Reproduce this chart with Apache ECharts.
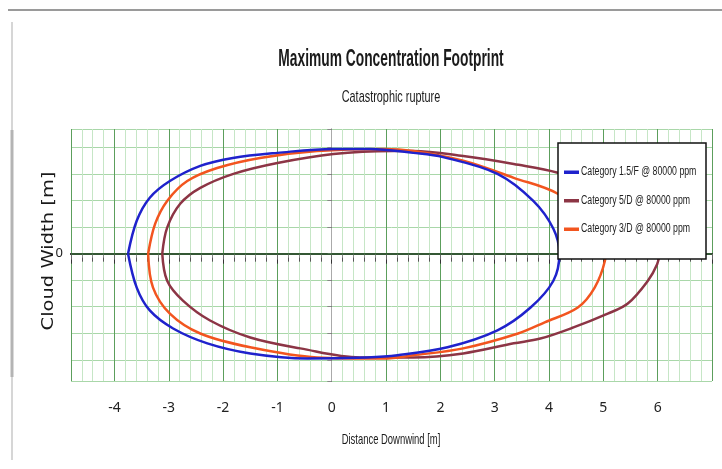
<!DOCTYPE html>
<html>
<head>
<meta charset="utf-8">
<script src="https://cdn.jsdelivr.net/npm/echarts@6/dist/echarts.min.js"></script>
<style>
  html, body { margin: 0; padding: 0; background: #fff; }
  #chart { width: 722px; height: 469px; }
</style>
</head>
<body>
<div id="chart"></div>
<script>
  // footprint outlines: [distance downwind, cloud width]
  var seriesNames = ['Category 1.5/F @ 80000 ppm', 'Category 5/D @ 80000 ppm', 'Category 3/D @ 80000 ppm'];
  var seriesColors = ['#1f22cc', '#8c3545', '#f2551f'];

  var footprint15F = [
    [-3.75, 0], [-3.59, 1.24], [-3.35, 2.11], [-2.98, 2.74], [-2.42, 3.31], [-1.82, 3.61],
    [-1.00, 3.80], [0.03, 3.95], [0.71, 3.95], [1.50, 3.80], [2.05, 3.64], [3.05, 3.01],
    [3.71, 1.99], [4.08, 0.94], [4.19, 0], [4.08, -1.02], [3.66, -2.03], [3.05, -2.89],
    [2.13, -3.53], [1.21, -3.83], [0.65, -3.91], [-0.45, -3.95], [-1.50, -3.76], [-2.29, -3.38],
    [-2.92, -2.82], [-3.35, -2.14], [-3.59, -1.28], [-3.75, 0]
  ];

  var footprint5D = [
    [-3.12, 0], [-3.03, 0.98], [-2.79, 1.88], [-2.42, 2.48], [-1.81, 3.01], [-1.00, 3.42],
    [0.03, 3.76], [1.13, 3.87], [1.50, 3.87], [2.42, 3.68], [3.35, 3.38], [4.16, 3.05],
    [4.95, 2.37], [5.59, 1.43], [5.91, 0.68], [6.03, 0], [5.99, -0.40], [5.82, -1.02],
    [5.45, -1.88], [5.08, -2.26], [4.45, -2.78], [3.84, -3.20], [3.35, -3.38], [2.42, -3.76],
    [1.50, -3.91], [0.52, -3.91], [-0.58, -3.57], [-1.50, -3.16], [-2.24, -2.52], [-2.74, -1.77],
    [-3.03, -1.02], [-3.12, 0]
  ];

  var footprint3D = [
    [-3.38, 0], [-3.25, 1.13], [-3.03, 1.99], [-2.66, 2.74], [-2.11, 3.23], [-1.32, 3.61],
    [-0.27, 3.87], [0.95, 3.95], [1.50, 3.87], [2.42, 3.50], [3.35, 2.86], [4.16, 2.26],
    [4.58, 1.43], [4.86, 0.68], [5.04, 0], [5.03, -0.26], [4.84, -1.28], [4.53, -2.03],
    [3.92, -2.59], [3.43, -3.01], [2.42, -3.57], [1.50, -3.83], [0.95, -3.95], [-0.27, -3.91],
    [-1.50, -3.53], [-2.42, -3.01], [-2.98, -2.26], [-3.29, -1.28], [-3.38, 0]
  ];

  var xRange = [-4.8, 7.0];
  var yRange = [-4.8, 4.7];

  var sans = "'Liberation Sans', Arial, sans-serif";

  var chart = echarts.init(document.getElementById('chart'));

  function lineSeries(i, data) {
    return {
      name: seriesNames[i],
      type: 'line',
      data: data,
      smooth: 0.35,
      showSymbol: false,
      symbol: 'none',
      z: 3,
      lineStyle: {color: seriesColors[i], width: 2.5},
      itemStyle: {color: seriesColors[i]}
    };
  }

  var s0 = lineSeries(0, footprint15F);
  s0.z = 4;
  s0.markLine = {
    silent: true,
    symbol: 'none',
    label: {show: false},
    animation: false,
    z: 2,
    lineStyle: {color: '#3d6b3d', type: 'solid', width: 1.5},
    data: [{yAxis: 0}]
  };

  // the original uses a narrow face; no condensed font here, so texts are squeezed with scaleX
  function squeezedText(txt, x, y, font, sx, extra) {
    var el = {
      type: 'text', x: x, y: y, scaleX: sx, z: 10,
      style: {text: txt, font: font, fill: '#1a1a1a', textAlign: 'center', textVerticalAlign: 'middle'}
    };
    for (var k in extra) el[k] = extra[k];
    return el;
  }

  // legend box drawn as a group, one row per series
  var legendRows = [];
  seriesNames.forEach(function (name, i) {
    var cy = 29 + i * 28.5;
    legendRows.push({type: 'rect', z: 21, shape: {x: 6, y: cy - 1.5, width: 15, height: 3.5}, style: {fill: seriesColors[i]}});
    legendRows.push({
      type: 'text', z: 21, x: 23, y: cy, scaleX: 0.7,
      style: {text: name, font: '12.5px ' + sans, fill: '#222', textAlign: 'left', textVerticalAlign: 'middle'}
    });
  });

  var option = {
    backgroundColor: '#fff',
    animation: false,
    legend: {show: false, data: seriesNames},
    grid: {left: 71, right: 10, top: 129, bottom: 88},
    graphic: [
      {type: 'line', shape: {x1: 8, y1: 10, x2: 722, y2: 10}, style: {stroke: '#9a9a9a', lineWidth: 2}},
      {type: 'line', shape: {x1: 12, y1: 22, x2: 12, y2: 460}, style: {stroke: '#d6d6d6', lineWidth: 2}},
      {type: 'line', shape: {x1: 12, y1: 130, x2: 12, y2: 377}, style: {stroke: '#b4b4b4', lineWidth: 3}},
      squeezedText('Maximum Concentration Footprint', 391, 60, 'bold 23px ' + sans, 0.6),
      squeezedText('Catastrophic rupture', 391, 97, '17px ' + sans, 0.64),
      squeezedText('Distance Downwind [m]', 391, 440, '15px ' + sans, 0.63),
      squeezedText('Cloud Width [m]', 49, 251, '15px DejaVu Sans', 1.3, {rotation: Math.PI / 2}),
      {
        type: 'group', x: 558, y: 143, z: 20,
        children: [
          {type: 'rect', z: 20, shape: {x: 0, y: 0, width: 148, height: 116}, style: {fill: '#fff', stroke: '#111', lineWidth: 1.5}}
        ].concat(legendRows)
      }
    ],
    xAxis: [
      {
        type: 'value',
        position: 'bottom',
        min: xRange[0],
        max: xRange[1],
        splitNumber: 12,
        axisLine: {show: true, lineStyle: {color: '#111', width: 2}},
        axisTick: {show: true, inside: false, length: 10, lineStyle: {color: '#333'}},
        minorTick: {show: true, splitNumber: 5, length: 8, lineStyle: {color: '#555'}},
        splitLine: {show: true, lineStyle: {color: '#5c9e5c', width: 1}},
        minorSplitLine: {show: true, lineStyle: {color: '#c6e6c6', width: 1}},
        axisLabel: {
          margin: 20, showMinLabel: false, showMaxLabel: false,
          fontFamily: "'Noto Sans', sans-serif", fontSize: 14, color: '#222'
        }
      },
      {
        type: 'value',
        position: 'top',
        min: xRange[0],
        max: xRange[1],
        splitNumber: 12,
        axisLine: {show: true, lineStyle: {color: '#222', width: 1.5}},
        axisTick: {show: true, inside: true, length: 6, lineStyle: {color: '#666'}},
        minorTick: {show: true, splitNumber: 5, length: 4, lineStyle: {color: '#888'}},
        splitLine: {show: false},
        axisLabel: {show: false}
      }
    ],
    yAxis: [
      {
        type: 'value',
        position: 'left',
        min: yRange[0],
        max: yRange[1],
        splitNumber: 10,
        axisLine: {show: true, lineStyle: {color: '#999', width: 1}},
        axisTick: {show: true, inside: false, length: 4, lineStyle: {color: '#444'}},
        splitLine: {show: true, lineStyle: {color: '#a9d7a9', width: 1}},
        axisLabel: {
          margin: 8, fontFamily: "'Noto Sans', sans-serif", fontSize: 13, color: '#222',
          formatter: function (v) { return v === 0 ? '0' : ''; }
        }
      },
      {
        type: 'value',
        position: 'right',
        min: yRange[0],
        max: yRange[1],
        splitNumber: 10,
        axisLine: {show: true, lineStyle: {color: '#aaa', width: 1}},
        axisTick: {show: true, inside: true, length: 4, lineStyle: {color: '#888'}},
        splitLine: {show: false},
        axisLabel: {show: false}
      }
    ],
    series: [
      s0,
      lineSeries(1, footprint5D),
      lineSeries(2, footprint3D)
    ]
  };

  chart.setOption(option);
</script>
</body>
</html>
